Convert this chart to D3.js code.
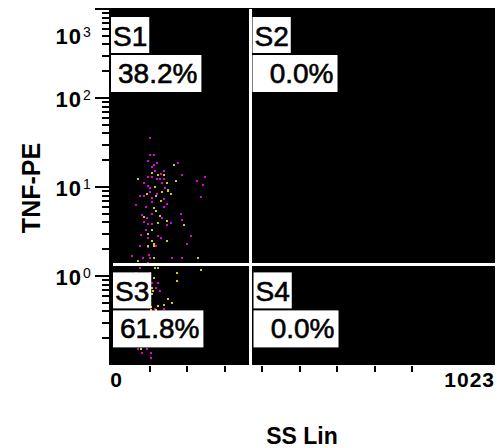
<!DOCTYPE html>
<html><head><meta charset="utf-8">
<script src="https://cdn.jsdelivr.net/npm/d3@7"></script>
<style>body{margin:0;background:#fff}svg{display:block}</style>
</head><body>
<svg id="c" width="497" height="448"></svg>
<script>
// ---- data ----
const quadrantNames = ["S1", "S2", "S3", "S4"];
const quadrantPercents = ["38.2%", "0.0%", "61.8%", "0.0%"];
const xDomain = [0, 1023];
const xMinorTicks = [100, 200, 300, 400, 500, 600, 700, 800];
const xTickValues = [0, 1023];
const xTickLabels = ["0", "1023"];
const yDomain = [0.1, 1000];
const yMajorTicks = [1, 10, 100, 1000];
const yTickExponents = ["0", "1", "2", "3"];
const xTitle = "SS Lin";
const yTitle = "TNF-PE";
const gateSS = 369;
const gateTNF = 1.35;
const magentaSS = [101,101,113,97,119,113,106,177,115,139,97,131,107,119,128,139,187,248,226,242,85,95,101,134,141,
  75,85,101,119,139,237,63,90,106,106,139,146,79,92,107,132,184,187,85,95,107,146,156,90,77,95,123,131,210,75,97,199,116,
  52,83,99,101,97,159,187,75,64,101,101,106,123,116,128,101,139,115,70,79,92,104,104];
const magentaTNF = [35.2,22.9,22.9,19.6,18.5,17.5,16.8,18.6,15.1,15.1,13.1,14.1,12.9,12.2,12.2,12.2,13.6,12.9,11.7,10.5,11.0,10.3,9.7,11.0,9.7,
  8.0,8.0,8.7,8.3,7.3,7.7,6.2,6.0,7.6,6.7,6.0,6.5,4.8,4.5,5.0,4.5,5.0,4.3,4.0,3.8,3.8,3.7,3.9,3.3,2.9,2.7,2.8,2.7,2.8,2.2,2.1,2.3,2.2,
  1.68,1.58,1.72,1.58,1.41,1.61,1.61,1.22,1.09,1.09,0.92,0.84,0.84,0.73,0.68,0.50,0.43,0.43,0.15,0.137,0.15,0.137,0.121];
const yellowSS = [166,107,123,139,68,170,146,115,148,92,116,134,150,157,131,113,116,128,86,123,146,193,106,97,107,113,146,97,113,
  70,113,230,115,123,172,237,172,113,106,110,106,150,161,139,123,104,116,104,77];
const yellowTNF = [17.7,14.4,13.5,13.6,12.3,11.6,11.0,10.0,9.2,8.4,8.0,8.9,9.0,8.4,7.0,5.8,5.4,4.7,4.6,3.9,4.1,3.7,3.3,3.0,2.5,2.3,2.5,2.2,2.2,
  1.47,1.58,1.58,1.22,1.22,1.09,1.16,0.89,0.94,0.74,0.68,0.62,0.55,0.50,0.47,0.46,0.42,0.42,0.45,0.152];

// ---- drawing ----
const FONT = "'Liberation Sans', Arial, sans-serif";
const svg = d3.select("#c");
const L = 109, R = 495, T = 8, B = 365;
const x = d3.scaleLinear().domain(xDomain).range([112, 496]);
const y = d3.scaleLog().domain(yDomain).range([365, 9]);

svg.append("rect").attr("x", L).attr("y", T).attr("width", R - L).attr("height", B - T).attr("fill", "#000");

// points
svg.append("clipPath").attr("id", "pc").append("rect")
  .attr("x", L + 1).attr("y", T).attr("width", R - L - 1).attr("height", B - T);
const pg = svg.append("g").attr("clip-path", "url(#pc)");
function drawPts(ss, tnf, color) {
  pg.selectAll(null).data(d3.range(ss.length)).enter().append("rect")
    .attr("x", i => Math.round(x(ss[i])) - 1)
    .attr("y", i => Math.round(y(tnf[i])) - 1)
    .attr("width", 2).attr("height", 2).attr("fill", color);
}
drawPts(magentaSS, magentaTNF, "#e000e0");
drawPts(yellowSS, yellowTNF, "#d0d000");

// gate lines
const gx = x(gateSS), gy = y(gateTNF);
svg.append("line").attr("x1", gx).attr("x2", gx).attr("y1", T + 1).attr("y2", B)
  .attr("stroke", "#fff").attr("stroke-width", 3);
svg.append("line").attr("x1", 113).attr("x2", R).attr("y1", gy).attr("y2", gy)
  .attr("stroke", "#fff").attr("stroke-width", 3);

// quadrant label boxes
const boxOrigins = [[L + 2, T + 9], [gx + 2, T + 9], [113, gy + 8], [gx + 3, gy + 8]];
quadrantNames.forEach((name, i) => {
  const [bx, by] = boxOrigins[i];
  const g = svg.append("g");
  const r1 = g.append("rect").attr("fill", "#fff");
  const t1 = g.append("text").text(name).attr("x", bx + 2).attr("y", by + 29)
    .attr("font-family", FONT).attr("font-size", 28).attr("fill", "#000")
    .attr("stroke", "#000").attr("stroke-width", 0.6);
  const w1 = t1.node().getComputedTextLength();
  r1.attr("x", bx).attr("y", by).attr("width", w1 + 4).attr("height", 36);
  const r2 = g.append("rect").attr("fill", "#fff");
  const t2 = g.append("text").text(quadrantPercents[i])
    .attr("font-family", FONT).attr("font-size", 28).attr("fill", "#000").attr("text-anchor", "end")
    .attr("stroke", "#000").attr("stroke-width", 0.6);
  const w2 = t2.node().getComputedTextLength();
  const bw = Math.max(w2 + 11, 85);
  r2.attr("x", bx).attr("y", by + 38).attr("width", bw).attr("height", 37);
  t2.attr("x", bx + bw - 4).attr("y", by + 38 + 28);
});

// y axis ticks
const minor = [];
[0.1, 1, 10, 100].forEach(d => { for (let k = 2; k <= 9; k++) minor.push(d * k); });
svg.selectAll(null).data(minor).enter().append("line")
  .attr("x1", 102).attr("x2", L).attr("y1", d => Math.round(y(d))).attr("y2", d => Math.round(y(d)))
  .attr("stroke", "#000").attr("stroke-width", 2);
svg.selectAll(null).data(yMajorTicks).enter().append("line")
  .attr("x1", 95).attr("x2", L).attr("y1", d => Math.round(y(d))).attr("y2", d => Math.round(y(d)))
  .attr("stroke", "#000").attr("stroke-width", 2);
yMajorTicks.forEach((d, i) => {
  const ty = Math.max(y(d), y(1000) + 26);
  svg.append("text").text("10").attr("x", 82).attr("y", ty + 9).attr("text-anchor", "end")
    .attr("font-family", FONT).attr("font-weight", "bold").attr("font-size", 22)
    .attr("letter-spacing", 1).attr("fill", "#000");
  svg.append("text").text(yTickExponents[i]).attr("x", 83).attr("y", ty + 2)
    .attr("font-family", FONT).attr("font-size", 14).attr("fill", "#000");
});

// x axis ticks
svg.selectAll(null).data(xMinorTicks).enter().append("line")
  .attr("x1", d => Math.round(x(d))).attr("x2", d => Math.round(x(d)))
  .attr("y1", 366).attr("y2", 372).attr("stroke", "#000").attr("stroke-width", 2);
xTickValues.forEach((d, i) => {
  const first = i === 0;
  svg.append("text").text(xTickLabels[i])
    .attr("x", first ? x(d) + 4 : 495).attr("y", 387)
    .attr("text-anchor", first ? "middle" : "end")
    .attr("font-family", FONT).attr("font-weight", "bold").attr("font-size", 21)
    .attr("letter-spacing", first ? 0 : 1).attr("fill", "#000");
});

// titles
svg.append("text").text(xTitle).attr("x", 302).attr("y", 444).attr("text-anchor", "middle")
  .attr("font-family", FONT).attr("font-weight", "bold").attr("font-size", 23).attr("fill", "#000");
svg.append("text").text(yTitle).attr("transform", "translate(40,188) rotate(-90)").attr("text-anchor", "middle")
  .attr("font-family", FONT).attr("font-weight", "bold").attr("font-size", 25).attr("fill", "#000");
</script>
</body></html>
